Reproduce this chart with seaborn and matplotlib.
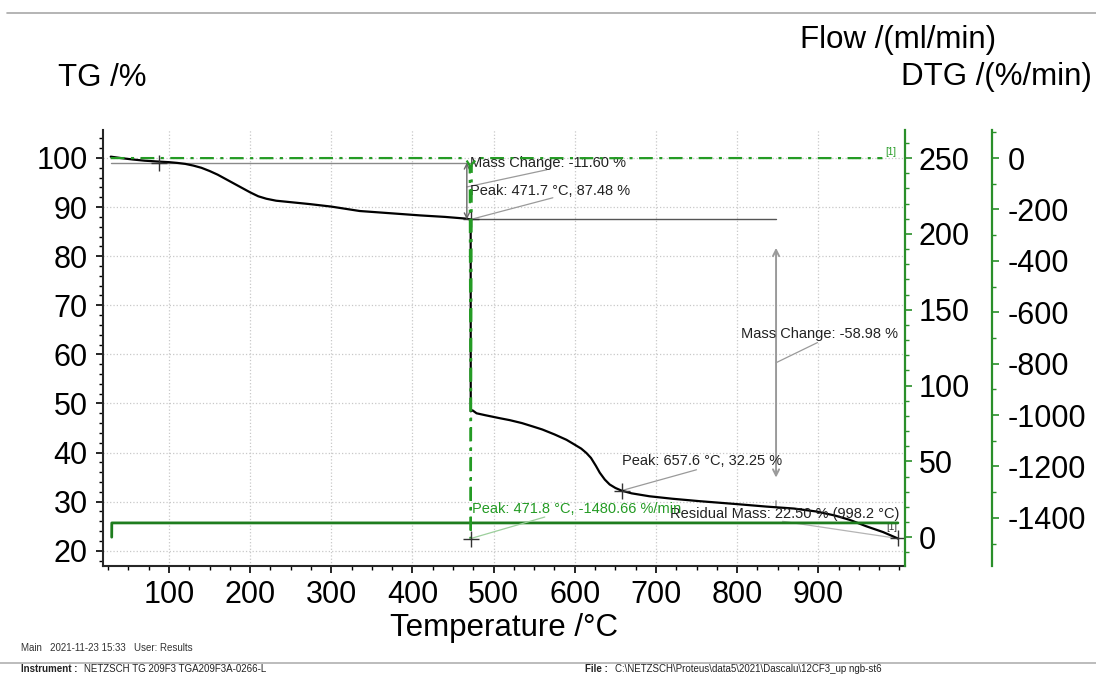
import matplotlib
matplotlib.use("Agg")
import matplotlib.pyplot as plt
from matplotlib.lines import Line2D
from matplotlib.ticker import MultipleLocator, FixedLocator
import seaborn as sns

# ---- measured data -------------------------------------------------------
# TG: residual mass (%) against temperature (°C)
tg_temp = [28.2, 40, 55, 70, 89, 100, 110, 120, 130, 140, 150, 160, 170,
           180, 190, 200, 210, 220, 232, 250, 274, 300, 335, 360, 385, 410,
           440, 466, 471.7,
           471.8, 474, 479, 490, 507.6, 520, 535, 548.6, 560, 575, 589.8,
           600, 608, 614.4, 620, 626, 630.8, 637, 643, 650, 657.6, 670, 692,
           720, 753.9, 800, 836, 870, 897.6, 920, 938.7, 959, 980, 998.2]
tg_mass = [100.27, 100.0, 99.7, 99.45, 99.25, 99.15, 99.0, 98.8, 98.45,
           98.0, 97.35, 96.6, 95.7, 94.8, 93.9, 93.0, 92.2, 91.7, 91.3, 91.0,
           90.6, 90.1, 89.2, 88.9, 88.6, 88.3, 88.0, 87.65, 87.48,
           48.4, 48.6, 48.0, 47.6, 47.0, 46.6, 46.0, 45.3, 44.7, 43.7, 42.6,
           41.6, 40.8, 39.9, 38.9, 37.3, 35.9, 34.5, 33.5, 32.8, 32.25, 31.7,
           31.1, 30.6, 30.1, 29.5, 29.0, 28.6, 28.0, 27.2, 26.3, 25.0, 23.8,
           22.5]

# DTG: mass-loss rate (%/min)
dtg_temp = [28.2, 100, 200, 300, 400, 465, 470.6, 471.8, 473.0, 480, 550,
            650, 750, 850, 950, 979]
dtg_rate = [-0.3, -0.2, -0.6, -0.2, -0.2, -0.3, -30, -1480.66, -25, -0.3,
            -0.4, -0.6, -0.2, -0.2, -0.4, -0.5]

# Purge gas flow (ml/min)
flow_temp = [29.4, 29.5, 998.2]
flow_rate = [0.0, 9.4, 9.4]

# Evaluation results
step1_onset = 88.0
step1_level = 99.08
peak1_temp, peak1_mass = 471.7, 87.48
step1_change = -11.60
step2_change = -58.98
peak2_temp, peak2_mass = 657.6, 32.25
dtg_peak_temp, dtg_peak_rate = 471.8, -1480.66
residual_temp, residual_mass = 998.2, 22.50

temp_ticks = list(range(100, 1000, 100))
tg_ticks = list(range(20, 101, 10))
flow_ticks = list(range(0, 251, 50))
dtg_ticks = list(range(0, -1401, -200))

# ---- styling -------------------------------------------------------------
sns.set_style("ticks")
plt.rcParams["font.family"] = ["Liberation Sans", "DejaVu Sans"]
plt.rcParams["axes.linewidth"] = 1.5
plt.rcParams["axes.unicode_minus"] = False
plt.rcParams["text.color"] = "black"
plt.rcParams["axes.labelcolor"] = "black"
plt.rcParams["xtick.color"] = "black"
plt.rcParams["ytick.color"] = "black"

GREEN_DTG = "#249b24"
GREEN_FLOW = "#1e7d1e"
GREEN_AX = "#2a8f2a"
TICK_FS = 22
LABEL_FS = 22.5
NOTE_FS = 10.5

fig = plt.figure(figsize=(10.96, 6.75), dpi=100)
ax = fig.add_axes([0.094, 0.1615, 0.7318, 0.6459])
ax_flow = ax.twinx()
ax_dtg = ax.twinx()

# ---- curves --------------------------------------------------------------
sns.lineplot(x=tg_temp, y=tg_mass, ax=ax, color="black", lw=1.6,
             sort=False, estimator=None, zorder=4)
sns.lineplot(x=flow_temp, y=flow_rate, ax=ax_flow, color=GREEN_FLOW, lw=2.0,
             sort=False, estimator=None)
sns.lineplot(x=dtg_temp, y=dtg_rate, ax=ax_dtg, color=GREEN_DTG, lw=1.6,
             sort=False, estimator=None, linestyle=(0, (6.2, 2.9, 1.4, 2.9)))

# ---- main (TG) axis ------------------------------------------------------
ax.set_xlim(18.7, 1007)
ax.set_ylim(16.9, 105.7)
ax.xaxis.set_major_locator(FixedLocator(temp_ticks))
ax.xaxis.set_minor_locator(MultipleLocator(25))
ax.yaxis.set_major_locator(FixedLocator(tg_ticks))
ax.yaxis.set_minor_locator(MultipleLocator(2))
ax.tick_params(axis="both", which="major", direction="out", length=5,
               width=1.2, labelsize=TICK_FS, color="black",
               labelcolor="black")
ax.tick_params(axis="both", which="minor", direction="out", length=3,
               width=1.0, color="black")
ax.tick_params(axis="x", pad=5)
ax.tick_params(axis="y", pad=6)
ax.grid(True, which="major", linestyle=":", color="#c8c8c8", lw=0.9)
ax.set_axisbelow(True)
for side in ("top", "right"):
    ax.spines[side].set_visible(False)
ax.set_xlabel("Temperature /°C", fontsize=LABEL_FS, labelpad=2,
              color="black")
ax.set_ylabel("")

# ---- flow axis -----------------------------------------------------------
ax_flow.set_ylim(-19, 268.5)
ax_flow.yaxis.set_major_locator(FixedLocator(flow_ticks))
ax_flow.yaxis.set_minor_locator(MultipleLocator(10))
for side in ("top", "left", "bottom"):
    ax_flow.spines[side].set_visible(False)
ax_flow.spines["right"].set_color(GREEN_AX)
ax_flow.spines["right"].set_linewidth(1.6)
ax_flow.tick_params(axis="y", which="major", direction="out", length=5,
                    width=1.2, color=GREEN_AX, labelcolor="black",
                    labelsize=TICK_FS, pad=5)
ax_flow.tick_params(axis="y", which="minor", direction="out", length=3,
                    width=1.0, color=GREEN_AX)
ax_flow.set_ylabel("")

# ---- DTG axis ------------------------------------------------------------
ax_dtg.set_ylim(-1587.5, 109)
ax_dtg.spines["right"].set_position(("axes", 1.1085))
ax_dtg.yaxis.set_major_locator(FixedLocator(dtg_ticks))
ax_dtg.yaxis.set_minor_locator(MultipleLocator(100))
for side in ("top", "left", "bottom"):
    ax_dtg.spines[side].set_visible(False)
ax_dtg.spines["right"].set_color(GREEN_AX)
ax_dtg.spines["right"].set_linewidth(1.6)
ax_dtg.tick_params(axis="y", which="major", direction="out", length=5,
                   width=1.2, color=GREEN_AX, labelcolor="black",
                   labelsize=TICK_FS, pad=6)
ax_dtg.tick_params(axis="y", which="minor", direction="out", length=3,
                   width=1.0, color=GREEN_AX)
ax_dtg.set_ylabel("")

# ---- evaluation marks on TG ----------------------------------------------
ax.plot([tg_temp[0], peak1_temp], [step1_level, step1_level],
        color="#8a8a8a", lw=1.0, zorder=3)
ax.plot([peak1_temp, 848], [peak1_mass, peak1_mass], color="#555555",
        lw=1.0, zorder=3)
for px, py in [(step1_onset, step1_level), (peak1_temp, peak1_mass),
               (peak2_temp, peak2_mass), (residual_temp, residual_mass)]:
    ax.plot(px, py, marker="+", ms=11, mew=1.0, color="#333333", zorder=5)

arrow_dark = dict(arrowstyle="<->", color="#666666", lw=1.0,
                  shrinkA=0, shrinkB=0, mutation_scale=9)
arrow_light = dict(arrowstyle="<->", color="#9a9a9a", lw=1.4,
                   shrinkA=0, shrinkB=0, mutation_scale=11)
ax.annotate("", xy=(467, peak1_mass), xytext=(467, step1_level),
            arrowprops=arrow_dark, zorder=5)
ax.annotate("", xy=(848, 34.9), xytext=(848, 81.7),
            arrowprops=arrow_light, zorder=5)
ax.plot([848, 848], [30.2, 29.0], color="#9a9a9a", lw=1.2, zorder=3)

lead = dict(color="#9a9a9a", lw=0.9, zorder=3)
ax.plot([467, 565.5], [94.1, 97.6], **lead)
ax.plot([peak1_temp, 573], [peak1_mass, 91.9], **lead)
ax.plot([848, 899], [58.3, 62.4], **lead)
ax.plot([peak2_temp, 750], [peak2_mass, 36.5], **lead)
ax.plot([residual_temp, 856], [residual_mass, 26.0], color="#b4b4b4",
        lw=0.9, zorder=3)

note = dict(fontsize=NOTE_FS, color="#222222", ha="left", va="center",
            zorder=6)
ax.text(470.7, 99.0, f"Mass Change: {step1_change:.2f} %", **note)
ax.text(470.7, 93.3, f"Peak: {peak1_temp:.1f} °C, {peak1_mass:.2f} %", **note)
ax.text(804.4, 64.2, f"Mass Change: {step2_change:.2f} %", **note)
ax.text(657.9, 38.3, f"Peak: {peak2_temp:.1f} °C, {peak2_mass:.2f} %", **note)
ax.text(717, 27.55,
        f"Residual Mass: {residual_mass:.2f} % ({residual_temp:.1f} °C)",
        **note)
ax.text(984, 24.9, "[1]", fontsize=7, color="#333333", ha="left",
        va="center")

# ---- evaluation marks on DTG ---------------------------------------------
ax_dtg.plot([dtg_peak_temp, 563], [dtg_peak_rate, -1397], color="#9ccf9c",
            lw=0.9)
ax_dtg.plot(dtg_peak_temp, dtg_peak_rate, marker="+", ms=11, mew=1.0,
            color="#333333")
ax_dtg.text(473, -1366,
            f"Peak: {dtg_peak_temp:.1f} °C, {dtg_peak_rate:.2f} %/min",
            fontsize=NOTE_FS, color=GREEN_DTG, ha="left", va="center")
ax_dtg.text(983, 24, "[1]", fontsize=7, color=GREEN_DTG, ha="left",
            va="center")

# ---- axis titles and page frame ------------------------------------------
W, H = 1096, 675
fig.text(58 / W, 1 - 78 / H, "TG /%", fontsize=LABEL_FS, ha="left",
         va="center")
fig.text(800 / W, 1 - 40 / H, "Flow /(ml/min)", fontsize=LABEL_FS,
         ha="left", va="center")
fig.text(1092 / W, 1 - 77 / H, "DTG /(%/min)", fontsize=LABEL_FS,
         ha="right", va="center")

fig.add_artist(Line2D([7 / W, 1], [1 - 13 / H, 1 - 13 / H],
                      color="#a8a8a8", lw=1.2))
fig.add_artist(Line2D([0, 1], [1 - 663 / H, 1 - 663 / H],
                      color="#b0b0b0", lw=1.2))

fig.text(21 / W, 1 - 648 / H, "Main   2021-11-23 15:33   User: Results",
         fontsize=7, color="#333333", ha="left", va="center")
foot_y = 1 - 669.5 / H
fig.text(21 / W, foot_y, "Instrument :", fontsize=7,
         fontweight="bold", color="#222222", ha="left", va="center")
fig.text(84 / W, foot_y, "NETZSCH TG 209F3 TGA209F3A-0266-L",
         fontsize=7, color="#222222", ha="left", va="center")
fig.text(585 / W, foot_y, "File :", fontsize=7, fontweight="bold",
         color="#222222", ha="left", va="center")
fig.text(615 / W, foot_y,
         "C:\\NETZSCH\\Proteus\\data5\\2021\\Dascalu\\12CF3_up ngb-st6",
         fontsize=7, color="#222222", ha="left", va="center")

fig.savefig("out.png", dpi=100)
